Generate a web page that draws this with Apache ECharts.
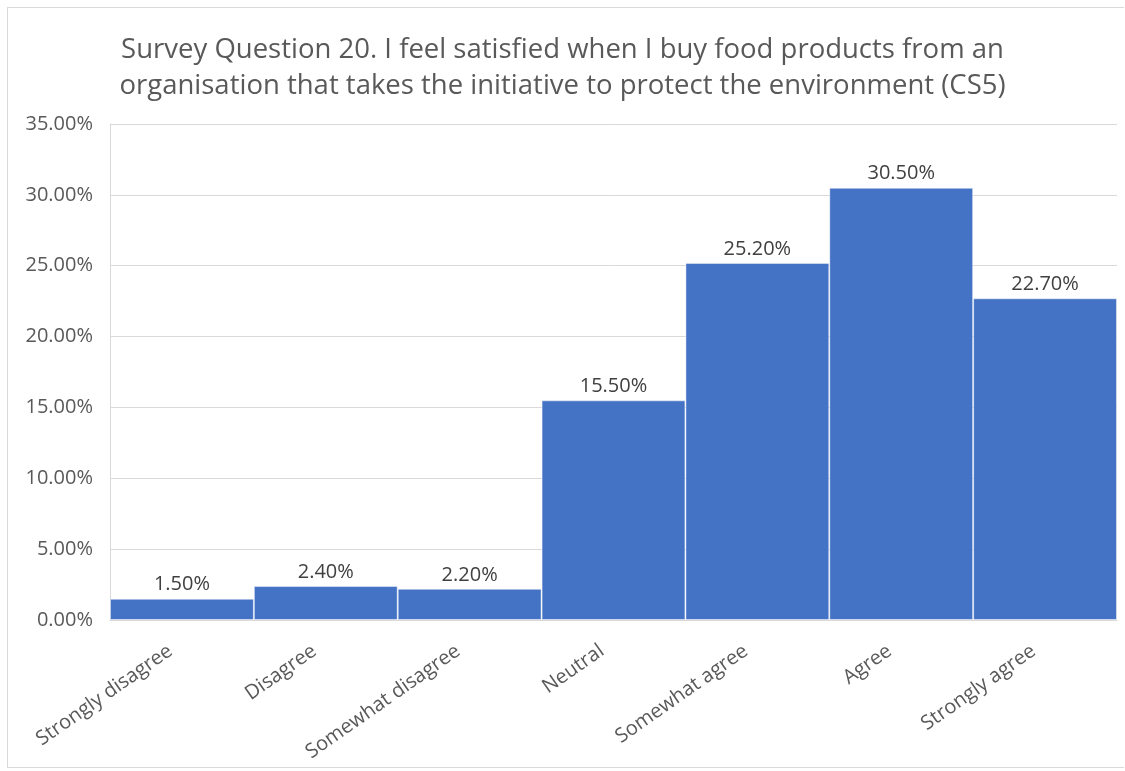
<!DOCTYPE html>
<html>
<head>
<meta charset="utf-8">
<script src="https://cdn.jsdelivr.net/npm/echarts@6/dist/echarts.min.js"></script>
<style>
  html, body { margin: 0; padding: 0; background: #fff; }
  #frame { position: absolute; left: 7px; top: 7px; width: 1117px; height: 761px; border: 1px solid #d9d9d9; border-right: none; box-sizing: border-box; }
  #chart { width: 1125px; height: 771px; position: absolute; left: 0; top: 0; }
</style>
</head>
<body>
<div id="frame"></div>
<div id="chart"></div>
<script>
// Response categories and share of respondents (%)
const categories = ['Strongly disagree', 'Disagree', 'Somewhat disagree', 'Neutral', 'Somewhat agree', 'Agree', 'Strongly agree'];
const shares = [1.5, 2.4, 2.2, 15.5, 25.2, 30.5, 22.7];
const titleLines = [
  'Survey Question 20. I feel satisfied when I buy food products from an',
  'organisation that takes the initiative to protect the environment (CS5)'
];

const chart = echarts.init(document.getElementById('chart'));
const font = 'Open Sans';
chart.setOption({
  animation: false,
  title: {
    text: titleLines.join('\n'),
    left: 'center',
    top: 27,
    textStyle: { fontFamily: font, fontSize: 27.5, fontWeight: 'normal', color: '#595959', lineHeight: 36 }
  },
  grid: { left: 110, right: 8, top: 124, bottom: 151 },
  xAxis: {
    type: 'category',
    data: categories,
    axisTick: { show: false },
    axisLine: { lineStyle: { color: '#d9d9d9' } },
    axisLabel: { rotate: 35, margin: 21, padding: [0, 14, 0, 0], fontFamily: font, fontSize: 20, color: '#595959', interval: 0 }
  },
  yAxis: {
    type: 'value',
    min: 0,
    max: 35,
    interval: 5,
    axisLine: { show: true, lineStyle: { color: '#d9d9d9' } },
    splitLine: { lineStyle: { color: '#d9d9d9' } },
    axisLabel: { fontFamily: font, fontSize: 20, color: '#595959', margin: 17, formatter: v => v.toFixed(2) + '%' }
  },
  series: [{
    type: 'bar',
    data: shares,
    barCategoryGap: 0,
    itemStyle: { color: '#4472C4', borderColor: 'rgba(255,255,255,0.45)', borderWidth: 1 },
    label: { show: true, position: 'top', distance: 4, fontFamily: font, fontSize: 20, color: '#404040', formatter: p => p.value.toFixed(2) + '%' }
  }]
});
</script>
</body>
</html>
